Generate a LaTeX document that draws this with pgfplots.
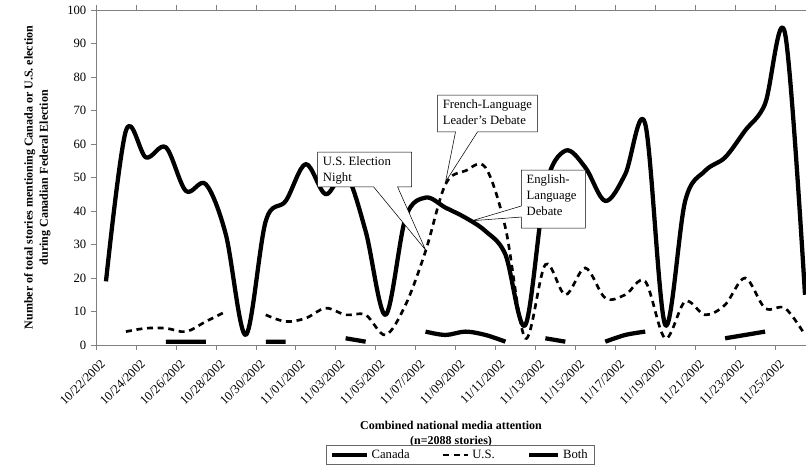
\documentclass[border=0pt]{standalone}
\usepackage{fontspec}
\setmainfont{Liberation Serif}
\usepackage{pgfplots}
\usepackage{pgfplotstable}
\pgfplotsset{compat=1.18}

\pgfplotstableread{
i  can us  both
0  19  nan nan
1  64  4   nan
2  56  5   nan
3  59  5   1
4  46  4   1
5  48  7   1
6  33  10  nan
7  3   nan nan
8  37  9   1
9  43  7   1
10 54  8   nan
11 45  11  nan
12 51  9   2
13 34  9   1
14 9   3   nan
15 38  12  nan
16 44  28  4
17 41  48  3
18 38  52  4
19 34  53  3
20 27  35  1
21 6   2   nan
22 47  24  2
23 58  15  1
24 53  23  nan
25 43  14  1
26 51  15  3
27 66  19  4
28 6   2   nan
29 43  13  nan
30 52  9   nan
31 56  12  2
32 64  20  3
33 72  11  4
34 93  11  nan
35 15  3   nan
}\datatable

\newcommand{\fs}{\fontsize{9.5}{12}\selectfont}
\newcommand{\fl}{\fontsize{9}{11.5}\selectfont\bfseries}

\pgfplotsset{
  canleg/.style={legend image code/.code={\draw[black, line width=3.2pt] (0pt,0pt) -- (26pt,0pt);}},
  usleg/.style={legend image code/.code={\draw[black, line width=2pt, dash pattern=on 4.5pt off 3.5pt] (0pt,0pt) -- (19pt,0pt);}},
  bothleg/.style={legend image code/.code={\draw[black, line width=3.2pt] (5pt,0pt) -- (27pt,0pt);}},
}

\begin{document}
\begin{tikzpicture}
\begin{axis}[
  at={(0,0)}, anchor=south west,
  scale only axis, width=532.5pt, height=251.25pt,
  xmin=-0.5, xmax=35.05, ymin=0, ymax=100,
  xtick={-0.5,1.5,...,33.5},
  xticklabels={10/22/2002,10/24/2002,10/26/2002,10/28/2002,10/30/2002,11/01/2002,11/03/2002,11/05/2002,11/07/2002,11/09/2002,11/11/2002,11/13/2002,11/15/2002,11/17/2002,11/19/2002,11/21/2002,11/23/2002,11/25/2002},
  xticklabel style={xshift=6pt, yshift=-8pt, rotate=45, anchor=east, font=\fs, inner sep=1pt},
  ytick={0,10,...,100},
  yticklabel style={font=\fs},
  /pgf/number format/assume math mode=true,
  tick align=outside, major tick length=3.75pt,
  tick style={draw=gray, thin},
  axis line style={draw=gray, thin},
  unbounded coords=jump,
  xlabel={Combined national media attention\\(n=2088 stories)},
  xlabel style={at={(axis description cs:0.5,0)}, yshift=-67pt, anchor=center, align=center, font=\fl},
  ylabel={Number of total stories mentioning Canada or U.S. election\\during Canadian Federal Election},
  ylabel style={at={(axis description cs:-0.0826,0.5)}, anchor=center, align=center, font=\fl},
  legend columns=3,
  legend style={at={(axis description cs:0.513,0)}, yshift=-82.5pt, anchor=center,
    draw=black!60, thin, font=\fs, inner xsep=3pt, inner ysep=1pt,
    /tikz/every even column/.append style={column sep=22pt}},
  legend cell align=left,
]
\addplot[black, line width=3.2pt, smooth, tension=0.55, line join=round, canleg]
  table[x=i, y=can] {\datatable};
\addlegendentry{Canada}
\addplot[black, line width=2pt, smooth, tension=0.55, dash pattern=on 4.5pt off 3.5pt, usleg]
  table[x=i, y=us] {\datatable};
\addlegendentry{U.S.}
\addplot[black, line width=3.2pt, smooth, tension=0.55, line join=round, bothleg]
  table[x=i, y=both] {\datatable};
\addlegendentry{Both}

% callouts
\draw[black, thin, fill=white] (axis cs:10.6,57.6) -- (axis cs:15.3,57.6) -- (axis cs:15.3,47.2)
  -- (axis cs:14.6,47.2) -- (axis cs:16,28.4) -- (axis cs:13.4,47.2) -- (axis cs:10.6,47.2) -- cycle;
\node[anchor=north west, align=left, font=\fs, inner sep=0pt] at (axis cs:10.85,56.4) {U.S. Election\\Night};

\draw[black, thin, fill=white] (axis cs:16.6,74.6) -- (axis cs:21.6,74.6) -- (axis cs:21.6,63.6)
  -- (axis cs:18.6,63.6) -- (axis cs:17,48.7) -- (axis cs:17.5,63.6) -- (axis cs:16.6,63.6) -- cycle;
\node[anchor=north west, align=left, font=\fs, inner sep=0pt] at (axis cs:16.85,73.4) {French-Language\\Leader's Debate};

\draw[black, thin, fill=white] (axis cs:20.8,52.2) -- (axis cs:24,52.2) -- (axis cs:24,34.9)
  -- (axis cs:20.8,34.9) -- (axis cs:20.8,38.2) -- (axis cs:18.33,37.1) -- (axis cs:20.8,41.5) -- cycle;
\node[anchor=north west, align=left, font=\fs, inner sep=0pt] at (axis cs:21.05,51.0) {English-\\Language\\Debate};
\end{axis}
\pgfresetboundingbox
\path (-72pt,-90pt) rectangle (532.5pt,258.75pt);
\end{tikzpicture}
\end{document}
